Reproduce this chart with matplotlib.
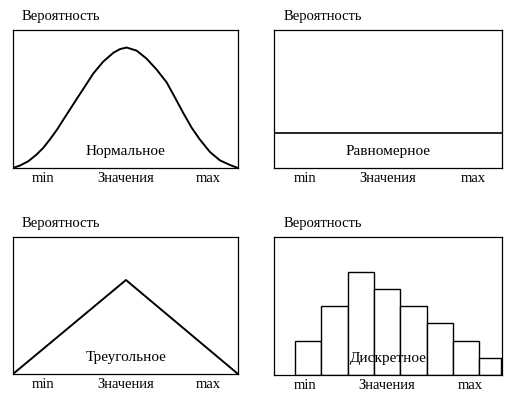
import matplotlib
matplotlib.use("Agg")
import matplotlib.pyplot as plt

plt.rcParams['font.family'] = ['Liberation Serif', 'DejaVu Serif']

# ---- data ----
y_label = "Вероятность"
tick_labels = ["min", "Значения", "max"]
tick_pos = [0.133, 0.502, 0.867]

normal_x = [0.0, 0.031, 0.068, 0.105, 0.135, 0.164, 0.196, 0.224, 0.253, 0.283, 0.312,
            0.357, 0.401, 0.446, 0.476, 0.505, 0.55, 0.594, 0.639, 0.683, 0.72,
            0.757, 0.794, 0.831, 0.876, 0.92, 0.964, 1.0]
normal_y = [0.0, 0.018, 0.049, 0.098, 0.147, 0.207, 0.279, 0.351, 0.424, 0.50, 0.572,
            0.685, 0.771, 0.835, 0.862, 0.873, 0.850, 0.792, 0.712, 0.620, 0.510,
            0.398, 0.292, 0.205, 0.115, 0.055, 0.022, 0.0]

uniform_x = [0.0, 1.0]
uniform_y = [0.254, 0.254]

tri_x = [0.0, 0.502, 1.0]
tri_y = [0.0, 0.686, 0.0]

disc_left = [0, 1, 2, 3, 4, 5, 6, 7]
disc_width = [1, 1, 1, 1, 1, 1, 1, 0.82]
disc_values = [2, 4, 6, 5, 4, 3, 2, 1]

names = ["Нормальное", "Равномерное", "Треугольное", "Дискретное"]

W, H = 527, 399
fig = plt.figure(figsize=(W / 100, H / 100), dpi=100)

def px_axes(l, t, r, b):
    return fig.add_axes([l / W, 1 - b / H, (r - l) / W, (b - t) / H])

ax1 = px_axes(13, 30, 238, 168)
ax2 = px_axes(274, 30, 502, 168)
ax3 = px_axes(13, 237, 238, 374)
ax4 = px_axes(274, 237, 502, 375)

FS = 10.5
for ax in (ax1, ax2, ax3, ax4):
    for s in ax.spines.values():
        s.set_linewidth(0.9)
    ax.set_yticks([])
    ax.tick_params(axis='x', length=0, pad=3, labelsize=FS)

# Normal
ax1.plot(normal_x, normal_y, color='black', lw=1.4, solid_joinstyle='round')
ax1.set_xlim(0, 1); ax1.set_ylim(0, 1)
ax1.set_xticks(tick_pos, tick_labels)
ax1.text(0.502, 0.116, names[0], transform=ax1.transAxes, ha='center', va='center', fontsize=11)

# Uniform
ax2.plot(uniform_x, uniform_y, color='black', lw=1.2)
ax2.set_xlim(0, 1); ax2.set_ylim(0, 1)
ax2.set_xticks([0.136, 0.5, 0.873], tick_labels)
ax2.text(0.5, 0.116, names[1], transform=ax2.transAxes, ha='center', va='center', fontsize=11)

# Triangle
ax3.plot(tri_x, tri_y, color='black', lw=1.4)
ax3.set_xlim(0, 1); ax3.set_ylim(0, 1)
ax3.set_xticks(tick_pos, tick_labels)
ax3.text(0.502, 0.117, names[2], transform=ax3.transAxes, ha='center', va='center', fontsize=11)

# Discrete
ax4.bar(disc_left, disc_values, width=disc_width, align='edge',
        facecolor='white', edgecolor='black', linewidth=1.0)
ax4.set_xlim(-0.8, 7.87); ax4.set_ylim(0, 8)
ax4.set_xticks([0.38, 3.5, 6.67], tick_labels)
ax4.text(0.5, 0.123, names[3], transform=ax4.transAxes, ha='center', va='center', fontsize=11)

# axis titles
for ax in (ax1, ax2, ax3, ax4):
    ax.text(0.04, 1.1, y_label, transform=ax.transAxes, ha='left', va='center', fontsize=FS)

fig.savefig("out.png", dpi=100)
